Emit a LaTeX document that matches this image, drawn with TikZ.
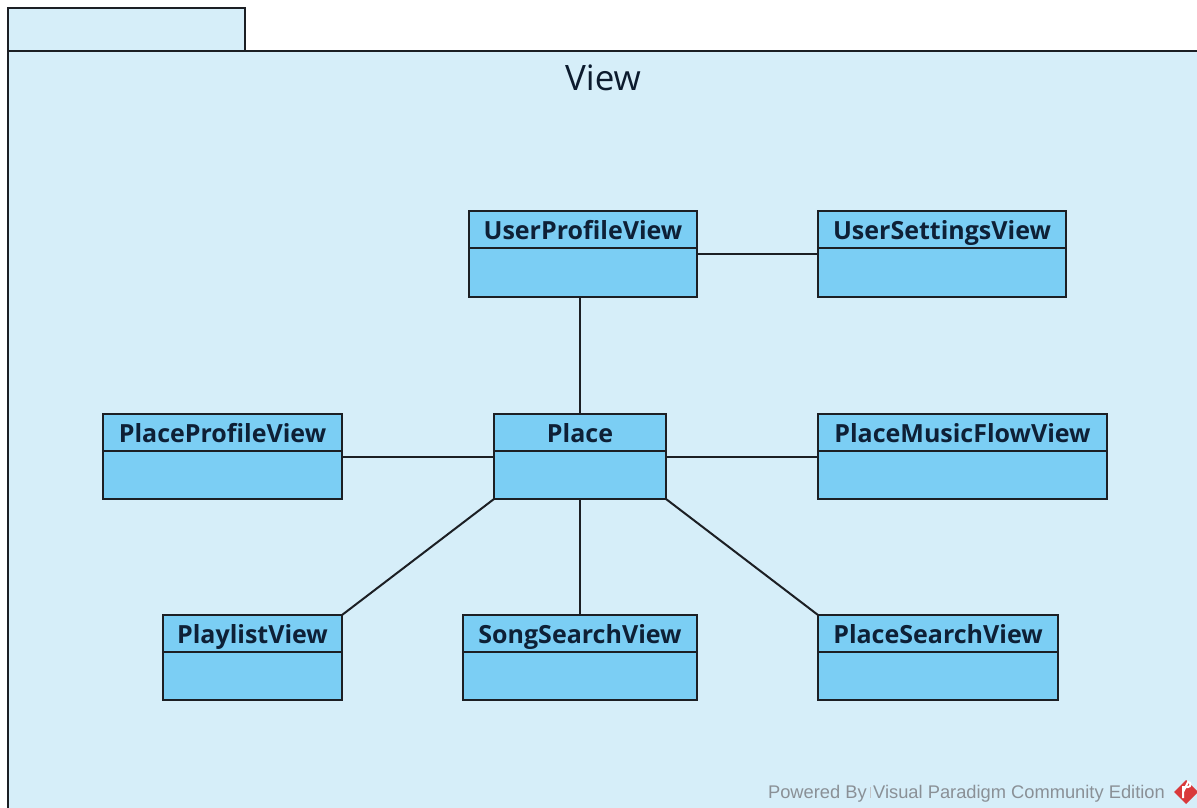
\documentclass[tikz,border=0pt]{standalone}
\usepackage{fontspec}
\setmainfont{Open Sans}
\newfontfamily\wmfont{Liberation Sans}
\definecolor{pkgfill}{HTML}{D6EEF9}
\definecolor{clsfill}{HTML}{7BCEF4}
\definecolor{ink}{HTML}{1C1F24}
\definecolor{txt}{HTML}{0E2036}
\definecolor{wmgray}{HTML}{8A9096}
\definecolor{logored}{HTML}{D9393B}
\tikzset{
  pkg/.style={draw=ink, line width=1.8pt, fill=pkgfill},
  clsbox/.style={draw=ink, line width=1.8pt, fill=clsfill, rectangle, inner sep=0pt, outer sep=0pt},
  clstitle/.style={font=\bfseries\fontsize{25}{27}\selectfont, text=txt, inner sep=0pt, anchor=base},
  conn/.style={draw=ink, line width=2pt},
}
\newcommand{\umlclass}[6]{%
  \node[clsbox, minimum width=#4pt-#2pt, minimum height=#5pt-#3pt] (#1) at ({(#2+#4)/2},{(#3+#5)/2}) {};
  \draw[draw=ink, line width=1.8pt] ([yshift=-37pt]#1.north west) -- ([yshift=-37pt]#1.north east);
  \node[clstitle] (#1-t) at ([yshift=-28pt]#1.north) {#6};
}
\begin{document}
\begin{tikzpicture}[x=1pt,y=-1pt]
\useasboundingbox (0,0) rectangle (1197,808);
% package
\draw[pkg] (8,51) rectangle (245,8);
\fill[pkgfill] (9,52) rectangle (1220,830);
\draw[pkg, fill=none] (8,830) -- (8,51) -- (1220,51);
\node[font=\fontsize{35}{37}\selectfont, text=txt!85!black, inner sep=0pt, anchor=base] (title) at (603,90) {View};
% classes
\umlclass{upv}{469}{211}{697}{297}{UserProfileView}
\umlclass{usv}{818}{211}{1066}{297}{UserSettingsView}
\umlclass{place}{494}{414}{666}{499}{Place}
\umlclass{ppv}{103}{414}{342}{499}{PlaceProfileView}
\umlclass{pmf}{818}{414}{1107}{499}{PlaceMusicFlowView}
\umlclass{plv}{163}{615}{342}{700}{PlaylistView}
\umlclass{ssv}{463}{615}{697}{700}{SongSearchView}
\umlclass{psv}{818}{615}{1058}{700}{PlaceSearchView}
% connectors
\draw[conn] (upv.east) -- (usv.west);
\draw[conn] (place.north) -- (place.north |- upv.south);
\draw[conn] (ppv.east) -- (place.west);
\draw[conn] (place.east) -- (pmf.west);
\draw[conn] (place.south west) -- (plv.north east);
\draw[conn] (place.south) -- (place.south |- ssv.north);
\draw[conn] (place.south east) -- (psv.north west);
% watermark
\node[font=\wmfont\fontsize{18.3}{20}\selectfont, text=wmgray, anchor=base east, inner sep=0pt] (wm) at (1165,798) {Powered By\,\textcolor{wmgray!50}{\rule[0.2pt]{0.4pt}{11pt}}\,Visual Paradigm Community Edition};
\fill[logored] (1186,780) -- (1198,792) -- (1186,804) -- (1174,792) -- cycle;
\draw[white, line width=2pt] (1183,798) -- (1183,787) -- (1188,787) arc (90:-90:2.5) -- (1183,792);
\end{tikzpicture}
\end{document}
